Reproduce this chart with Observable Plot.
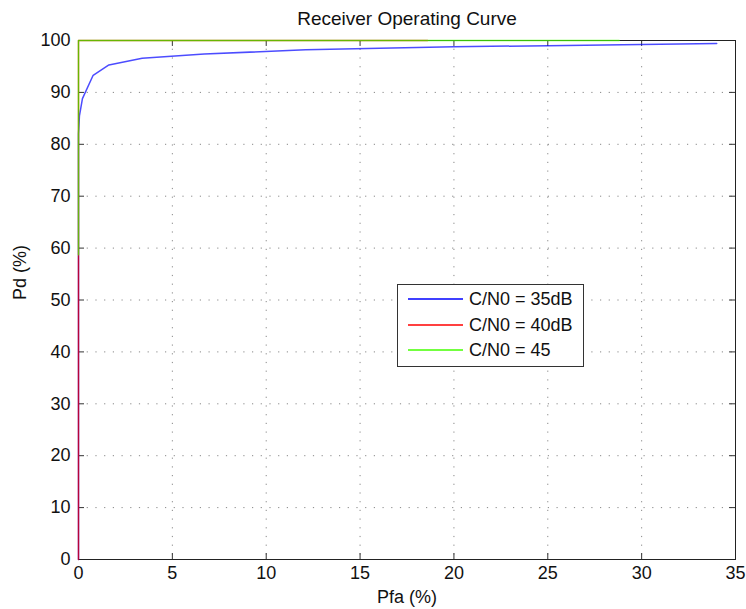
<!DOCTYPE html>
<html><head><meta charset="utf-8">
<script src="https://cdn.jsdelivr.net/npm/d3@7"></script>
<script src="https://cdn.jsdelivr.net/npm/@observablehq/plot@0.6"></script>
<style>
body{margin:0;background:#fff;}
#wrap{position:relative;width:746px;height:609px;font-family:"Liberation Sans",Arial,Helvetica,sans-serif;}
#legend{position:absolute;left:397px;top:284px;width:187px;height:83px;border:1px solid #333;background:#fff;box-sizing:border-box;font-size:18px;}
#legend .row{position:absolute;left:0;width:180px;height:22px;line-height:22px;}
#legend .sw{position:absolute;left:10px;top:10px;width:55px;height:2px;}
#legend .lab{position:absolute;left:71px;top:0;white-space:nowrap;color:#111;}
</style></head><body><div id="wrap"></div>
<script>
const title = "Receiver Operating Curve";
const xLabel = "Pfa (%)";
const yLabel = "Pd (%)";
const series = ["C/N0 = 35dB", "C/N0 = 40dB", "C/N0 = 45"];
const colors = ["#0000ff", "#ff0000", "#44ff00"];
const pfa35 = [0, 0, 0.05, 0.21, 0.78, 1.62, 3.39, 6.7, 12.1, 20.0, 25.0, 29.0, 34.0];
const pd35  = [0, 82, 85.5, 88.8, 93.3, 95.3, 96.6, 97.4, 98.2, 98.8, 99.0, 99.2, 99.4];
const pfa40 = [0, 0, 18.6];
const pd40  = [0, 100, 100];
const pfa45 = [0, 0, 28.8];
const pd45  = [58.7, 100, 100];
const xTicks = [0, 5, 10, 15, 20, 25, 30, 35];
const yTicks = [0, 10, 20, 30, 40, 50, 60, 70, 80, 90, 100];

const rows = [];
[[pfa35, pd35], [pfa40, pd40], [pfa45, pd45]].forEach(([xs, ys], i) => {
  xs.forEach((x, j) => rows.push({series: series[i], pfa: x, pd: ys[j]}));
});

const font = "Liberation Sans, Arial, Helvetica, sans-serif";
const xGrid = xTicks.slice(1, -1);
const yGrid = yTicks.slice(1, -1);

const plot = Plot.plot({
  width: 746, height: 609,
  marginTop: 40, marginRight: 11, marginBottom: 50, marginLeft: 78,
  style: {fontFamily: font, fontSize: "18px", background: "#fff", color: "#111"},
  x: {domain: [0, 35], ticks: xTicks},
  y: {domain: [0, 100], ticks: yTicks},
  color: {domain: series, range: colors},
  marks: [
    Plot.ruleX(xGrid, {stroke: "#888", strokeDasharray: "1.2,7.5", strokeWidth: 1}),
    Plot.ruleY(yGrid, {stroke: "#888", strokeDasharray: "1.2,7.5", strokeWidth: 1}),
    Plot.ruleX(xTicks, {y1: 0, y2: 1.15, stroke: "#333"}),
    Plot.ruleX(xTicks, {y1: 100, y2: 98.85, stroke: "#333"}),
    Plot.ruleY(yTicks, {x1: 0, x2: 0.32, stroke: "#333"}),
    Plot.ruleY(yTicks, {x1: 35, x2: 34.68, stroke: "#333"}),
    Plot.frame({stroke: "#222"}),
    Plot.line(rows, {x: "pfa", y: "pd", z: "series", stroke: "series", strokeWidth: 1.5, strokeOpacity: 0.7}),
    Plot.axisX(xTicks, {anchor: "bottom", tickSize: 0, tickPadding: 7, fontSize: 18, label: null}),
    Plot.axisY(yTicks, {anchor: "left", tickSize: 0, tickPadding: 8, fontSize: 18, label: null}),
    Plot.text([title], {frameAnchor: "top", lineAnchor: "middle", dy: -22, fontSize: 19, fill: "#111"}),
    Plot.text([xLabel], {frameAnchor: "bottom", lineAnchor: "middle", dy: 38, fontSize: 18, fill: "#111"}),
    Plot.text([yLabel], {frameAnchor: "left", lineAnchor: "middle", dx: -58, rotate: -90, fontSize: 18, fill: "#111"})
  ]
});
const wrap = document.getElementById("wrap");
wrap.appendChild(plot);

const legend = document.createElement("div");
legend.id = "legend";
const rowTops = [3, 29, 54];
series.forEach((s, i) => {
  const r = document.createElement("div");
  r.className = "row";
  r.style.top = rowTops[i] + "px";
  const sw = document.createElement("div");
  sw.className = "sw";
  sw.style.background = colors[i];
  sw.style.opacity = "0.75";
  const lab = document.createElement("div");
  lab.className = "lab";
  lab.textContent = s;
  r.appendChild(sw);
  r.appendChild(lab);
  legend.appendChild(r);
});
wrap.appendChild(legend);
</script>
</body></html>
